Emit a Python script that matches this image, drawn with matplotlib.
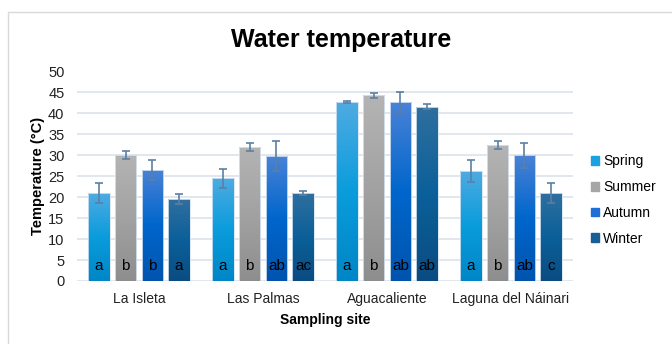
import numpy as np
import matplotlib.pyplot as plt
from matplotlib.colors import LinearSegmentedColormap
from matplotlib.patches import Rectangle

plt.rcParams['font.family'] = ['Liberation Sans', 'DejaVu Sans']

# DATA
sites = ['La Isleta', 'Las Palmas', 'Aguacaliente', 'Laguna del Náinari']
seasons = ['Spring', 'Summer', 'Autumn', 'Winter']
spring = [21.0, 24.5, 42.7, 26.3]
summer = [30.0, 32.0, 44.3, 32.4]
autumn = [26.5, 29.8, 42.7, 30.0]
winter = [19.5, 21.0, 41.6, 21.0]
spring_err = [2.5, 2.3, 0.2, 2.6]
summer_err = [1.0, 0.9, 0.6, 1.0]
autumn_err = [2.4, 3.6, 2.4, 3.0]
winter_err = [1.2, 0.5, 0.6, 2.3]
spring_lbl = ['a', 'a', 'a', 'a']
summer_lbl = ['b', 'b', 'b', 'b']
autumn_lbl = ['b', 'ab', 'ab', 'ab']
winter_lbl = ['a', 'ac', 'ab', 'c']

values = [spring, summer, autumn, winter]
errors = [spring_err, summer_err, autumn_err, winter_err]
letters = [spring_lbl, summer_lbl, autumn_lbl, winter_lbl]

# top, middle, bottom colours of each gradient + flat legend colour
grads = [
    ['#4fabe2', '#0a9cdc', '#0086c6'],
    ['#b4b4b4', '#a2a2a2', '#8e8e8e'],
    ['#4a82d6', '#0066cc', '#0054ae'],
    ['#2f6f9f', '#0b6099', '#0a4c82'],
]
solid = ['#1ba1e2', '#a6a6a6', '#1f6fd5', '#1a5e96']
err_col = '#5b7fa6'

fig = plt.figure(figsize=(6.72, 3.44), dpi=100)
fig.patches.append(Rectangle((8 / 672, -0.1), 1.0, 1 - 12 / 344 + 0.1,
                             transform=fig.transFigure, fill=False,
                             edgecolor='#d9d9d9', linewidth=1.0))
ax = fig.add_axes([77 / 672, (344 - 281) / 344, (573 - 77) / 672, (281 - 71.5) / 344])

x = np.arange(len(sites))
step = 0.215
width = 0.17

for i in range(4):
    pos = x + (i - 1.5) * step
    bars = ax.bar(pos, values[i], width, color='none', edgecolor='#d6e4f2',
                  linewidth=0.6, zorder=3, label=seasons[i])
    cmap = LinearSegmentedColormap.from_list('g%d' % i, grads[i])
    grad = np.linspace(0, 1, 256).reshape(-1, 1)
    for b in bars:
        x0, y0 = b.get_x(), b.get_y()
        w, h = b.get_width(), b.get_height()
        im = ax.imshow(grad, cmap=cmap, aspect='auto', origin='upper',
                       extent=[x0, x0 + w, y0, y0 + h], zorder=2)
        im.set_clip_path(b)
    ax.errorbar(pos, values[i], yerr=errors[i], fmt='none', ecolor=err_col,
                elinewidth=1.2, capsize=3, capthick=1.2, zorder=4)
    for p, t in zip(pos, letters[i]):
        ax.text(p, 3.5, t, ha='center', va='center', fontsize=11,
                color='black', zorder=5)

ax.set_xlim(-0.5, 3.5)
ax.set_ylim(0, 50)
ax.set_yticks(np.arange(0, 51, 5))
ax.set_xticks(x)
ax.set_xticklabels(sites, fontsize=10)
ax.grid(axis='y', color='#dde3ea', linewidth=1.2, zorder=0)
ax.set_axisbelow(True)
for s in ax.spines.values():
    s.set_visible(False)
ax.tick_params(axis='both', length=0, colors='#222222')
ax.tick_params(axis='y', pad=9, labelsize=10.5)
ax.tick_params(axis='x', pad=8)

ax.set_ylabel('Temperature (°C)', fontsize=10.5, fontweight='bold', labelpad=2)
ax.set_xlabel('Sampling site', fontsize=10, fontweight='bold', labelpad=5)
fig.text(341 / 672, 1 - 40 / 344, 'Water temperature', ha='center', va='center',
         fontsize=18, fontweight='bold')

handles = [Rectangle((0, 0), 1, 1, color=c) for c in solid]
fig.legend(handles, seasons, loc='center left', bbox_to_anchor=(578 / 672, 1 - 200 / 344),
           frameon=False, fontsize=10, handlelength=0.6, handleheight=0.6,
           handletextpad=0.3, labelspacing=0.85)

fig.savefig('out.png', dpi=100)
